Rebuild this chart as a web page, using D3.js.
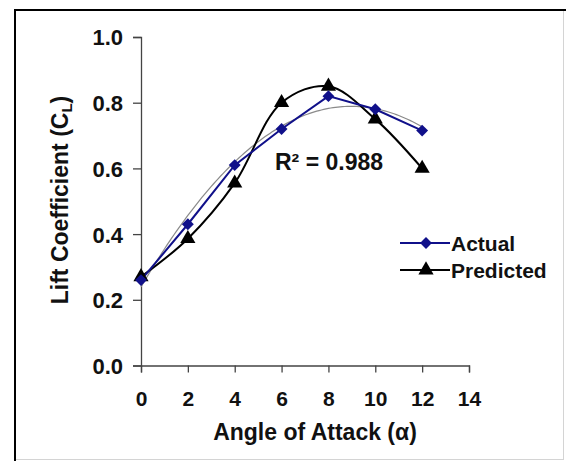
<!DOCTYPE html>
<html><head><meta charset="utf-8">
<script src="https://cdn.jsdelivr.net/npm/d3@7"></script>
<style>html,body{margin:0;padding:0;background:#fff;}svg{display:block;font-family:"Liberation Sans",Arial,sans-serif;font-weight:bold;}</style>
</head><body>
<svg id="chart" width="566" height="461"></svg>
<script>
const angles = [0, 2, 4, 6, 8, 10, 12];
const actual = [0.26, 0.43, 0.61, 0.72, 0.82, 0.78, 0.715];
const predicted = [0.27, 0.386, 0.555, 0.80, 0.85, 0.75, 0.60];
const xTicks = [0, 2, 4, 6, 8, 10, 12, 14];
const yTicks = [0.0, 0.2, 0.4, 0.6, 0.8, 1.0];
const seriesNames = ["Actual", "Predicted"];
const r2Label = "R² = 0.988";

const svg = d3.select("#chart");
const x = d3.scaleLinear().domain([0, 14]).range([141, 469]);
const y = d3.scaleLinear().domain([0, 1]).range([365.5, 37]);

// frame
svg.append("rect").attr("x", 14.5).attr("y", 9.5).attr("width", 549).attr("height", 450)
  .attr("fill", "#fff").attr("stroke", "#d4d4d4").attr("stroke-width", 1);
svg.append("path").attr("d", "M15,461V10H566").attr("fill", "none").attr("stroke", "#000").attr("stroke-width", 2);

// axes
const xAxis = d3.axisBottom(x).tickValues(xTicks).tickSize(7).tickFormat(d3.format("d"));
const gx = svg.append("g").attr("transform", `translate(0,${y(0)})`).call(xAxis);
gx.select(".domain").attr("stroke", "#444").attr("stroke-width", 1.3);
gx.selectAll(".tick line").attr("stroke", "#444").attr("stroke-width", 1.3);
gx.selectAll(".tick text").attr("font-size", 21).attr("font-family", "Liberation Sans, Arial, sans-serif")
  .attr("font-weight", "bold").attr("fill", "#111").attr("dy", null).attr("y", 40);

const yAxis = d3.axisLeft(y).tickValues(yTicks).tickSize(8).tickFormat(d3.format(".1f"));
const gy = svg.append("g").attr("transform", `translate(${x(0)},0)`).call(yAxis);
gy.select(".domain").attr("stroke", "#444").attr("stroke-width", 1.3);
gy.selectAll(".tick line").attr("stroke", "#444").attr("stroke-width", 1.3);
gy.selectAll(".tick text").attr("font-size", 22).attr("font-family", "Liberation Sans, Arial, sans-serif")
  .attr("font-weight", "bold").attr("fill", "#111").attr("x", -18).attr("dy", "0.36em");

// trendline: least-squares quadratic fit of the actual series
(function () {
  const n = angles.length;
  let S = [0,0,0,0,0], T = [0,0,0];
  for (let i = 0; i < n; i++) {
    const xi = angles[i], yi = actual[i];
    for (let k = 0; k < 5; k++) S[k] += Math.pow(xi, k);
    for (let k = 0; k < 3; k++) T[k] += Math.pow(xi, k) * yi;
  }
  const A = [[S[0],S[1],S[2],T[0]],[S[1],S[2],S[3],T[1]],[S[2],S[3],S[4],T[2]]];
  for (let i = 0; i < 3; i++) {
    for (let j = i + 1; j < 3; j++) {
      const f = A[j][i] / A[i][i];
      for (let k = i; k < 4; k++) A[j][k] -= f * A[i][k];
    }
  }
  const c = [0,0,0];
  for (let i = 2; i >= 0; i--) {
    let s = A[i][3];
    for (let k = i + 1; k < 3; k++) s -= A[i][k] * c[k];
    c[i] = s / A[i][i];
  }
  const xs = d3.range(0, 12.001, 0.1);
  const pts = xs.map(v => [v, c[0] + c[1]*v + c[2]*v*v]);
  svg.append("path").datum(pts).attr("fill", "none").attr("stroke", "#8a8a8a").attr("stroke-width", 1.2)
    .attr("d", d3.line().x(d => x(d[0])).y(d => y(d[1])));
})();

const actualColor = "#10108a";
// predicted (smoothed)
const predPts = angles.map((a, i) => [a, predicted[i]]);
svg.append("path").datum(predPts).attr("fill", "none").attr("stroke", "#000").attr("stroke-width", 2)
  .attr("d", d3.line().x(d => x(d[0])).y(d => y(d[1])).curve(d3.curveCatmullRom.alpha(0.5)));
// actual (straight)
const actPts = angles.map((a, i) => [a, actual[i]]);
svg.append("path").datum(actPts).attr("fill", "none").attr("stroke", actualColor).attr("stroke-width", 2)
  .attr("d", d3.line().x(d => x(d[0])).y(d => y(d[1])));

const diamond = d3.symbol().type(d3.symbolDiamond2 || d3.symbolDiamond).size(90);
const tri = d3.symbol().type(d3.symbolTriangle).size(100);
svg.append("g").selectAll("path").data(predPts).join("path")
  .attr("transform", d => `translate(${x(d[0])},${y(d[1])})`).attr("d", tri).attr("fill", "#000");
svg.append("g").selectAll("path").data(actPts).join("path")
  .attr("transform", d => `translate(${x(d[0])},${y(d[1])})`).attr("d", diamond).attr("fill", actualColor);

// R² label
svg.append("text").attr("x", 275).attr("y", 170).attr("font-size", 23).attr("fill", "#111").text(r2Label);

// legend
const leg = svg.append("g");
[[seriesNames[0], actualColor, diamond, 243], [seriesNames[1], "#000", tri, 270]].forEach(([name, col, sym, ly]) => {
  leg.append("line").attr("x1", 400).attr("x2", 450).attr("y1", ly).attr("y2", ly).attr("stroke", col).attr("stroke-width", 2);
  leg.append("path").attr("transform", `translate(426,${ly})`).attr("d", sym).attr("fill", col);
  leg.append("text").attr("x", 451).attr("y", ly + 7.5).attr("font-size", 21).attr("fill", "#111").text(name);
});

// axis titles
svg.append("text").attr("x", 315).attr("y", 440).attr("text-anchor", "middle").attr("font-size", 23).attr("fill", "#111")
  .text("Angle of Attack (α)");
const yt = svg.append("text").attr("transform", "translate(68,200) rotate(-90)").attr("text-anchor", "middle")
  .attr("font-size", 23).attr("fill", "#111");
yt.append("tspan").text("Lift Coefficient (C");
yt.append("tspan").attr("font-size", 15).attr("dy", 4).text("L");
yt.append("tspan").attr("dy", -4).text(")");
</script>
</body></html>
